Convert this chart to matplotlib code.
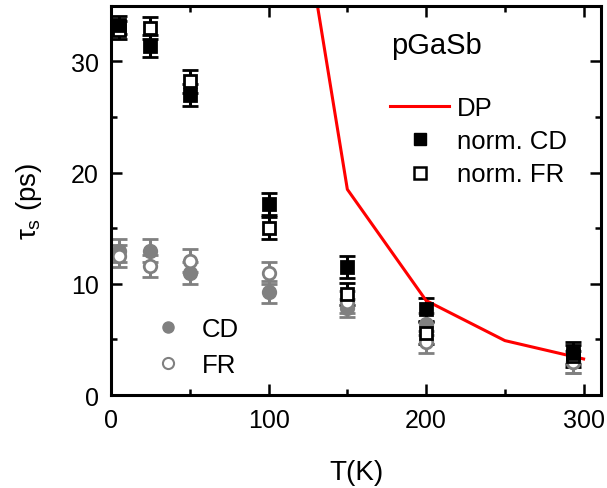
import matplotlib
matplotlib.use("Agg")
import matplotlib.pyplot as plt
from matplotlib.lines import Line2D

plt.rcParams['font.family'] = ['Liberation Sans', 'DejaVu Sans']
plt.rcParams['mathtext.fontset'] = 'custom'
plt.rcParams['mathtext.rm'] = 'Liberation Sans'
plt.rcParams['mathtext.it'] = 'Liberation Sans'

# temperatures (K)
T = [5, 25, 50, 100, 150, 200, 293]

# normalised data (black squares)
norm_cd = [33.3, 31.4, 27.0, 17.2, 11.5, 7.7, 3.8]
norm_cd_err = [0.8, 1.0, 1.0, 1.0, 1.0, 1.0, 1.0]
norm_fr = [32.8, 33.0, 28.2, 15.0, 9.1, 5.6, 3.5]
norm_fr_err = [0.8, 1.0, 1.0, 1.0, 1.0, 1.0, 1.0]

# raw data (grey circles)
cd = [13.0, 13.0, 11.0, 9.3, 7.8, 6.4, 3.0]
cd_err = [1.0, 1.0, 1.0, 1.0, 0.8, 1.0, 1.0]
fr = [12.5, 11.6, 12.1, 11.0, 8.4, 4.8, 3.0]
fr_err = [1.0, 1.0, 1.0, 1.0, 1.0, 1.0, 1.0]

# DP model
T_dp = [100, 150, 200, 250, 300]
tau_dp = [62.0, 18.5, 8.5, 4.9, 3.25]

grey = '#808080'

fig = plt.figure(figsize=(6.07, 4.89), dpi=100)
ax = fig.add_axes([0.183, 0.190, 0.807, 0.796])

eb = dict(capsize=5.5, capthick=2.2, elinewidth=2.2, linestyle='none', markersize=9, markeredgewidth=2)

ax.errorbar(T, cd, yerr=cd_err, fmt='o', color=grey, mfc=grey, mec=grey, **eb)
ax.errorbar(T, fr, yerr=fr_err, fmt='o', color=grey, mfc='white', mec=grey, **eb)
ax.errorbar(T, norm_fr, yerr=norm_fr_err, fmt='s', color='black', mfc='white', mec='black', **eb)
ax.errorbar(T, norm_cd, yerr=norm_cd_err, fmt='s', color='black', mfc='black', mec='black', **eb)
ax.plot(T_dp, tau_dp, color='red', lw=2.2)

ax.set_xlim(0, 311)
ax.set_ylim(0, 35)
ax.set_xticks([0, 100, 200, 300])
ax.set_xticks([50, 150, 250], minor=True)
ax.set_yticks([0, 10, 20, 30])
ax.set_yticks([5, 15, 25], minor=True)
ax.tick_params(which='both', direction='in', top=True, right=True, width=1.8, labelsize=18, pad=9)
ax.tick_params(which='major', length=8)
ax.tick_params(which='minor', length=4)
for s in ax.spines.values():
    s.set_linewidth(2.2)

ax.set_xlabel('T(K)', fontsize=20, labelpad=20)
ax.set_ylabel(r'$\tau_s$ (ps)', fontsize=20, labelpad=19)

ax.text(0.571, 0.90, 'pGaSb', transform=ax.transAxes, fontsize=21, va='center', ha='left')

h1 = [Line2D([], [], color='red', lw=2.2),
      Line2D([], [], ls='none', marker='s', ms=8, mfc='black', mec='black'),
      Line2D([], [], ls='none', marker='s', ms=8, mfc='white', mec='black', mew=1.8)]
leg1 = fig.legend(h1, ['DP', 'norm. CD', 'norm. FR'], loc='upper left',
                  bbox_to_anchor=(390 / 607, 1 - 97 / 489), frameon=False, fontsize=18.5,
                  handlelength=2.3, handletextpad=0.3, labelspacing=0.36,
                  borderpad=0, borderaxespad=0)

h2 = [Line2D([], [], ls='none', marker='o', ms=8, mfc=grey, mec=grey),
      Line2D([], [], ls='none', marker='o', ms=8, mfc='white', mec=grey, mew=1.5)]
leg2 = fig.legend(h2, ['CD', 'FR'], loc='upper left',
                  bbox_to_anchor=(138 / 607, 1 - 318 / 489), frameon=False, fontsize=18.5,
                  handlelength=2.3, handletextpad=0.2, labelspacing=0.45,
                  borderpad=0, borderaxespad=0)

fig.savefig('out.png', dpi=100)
